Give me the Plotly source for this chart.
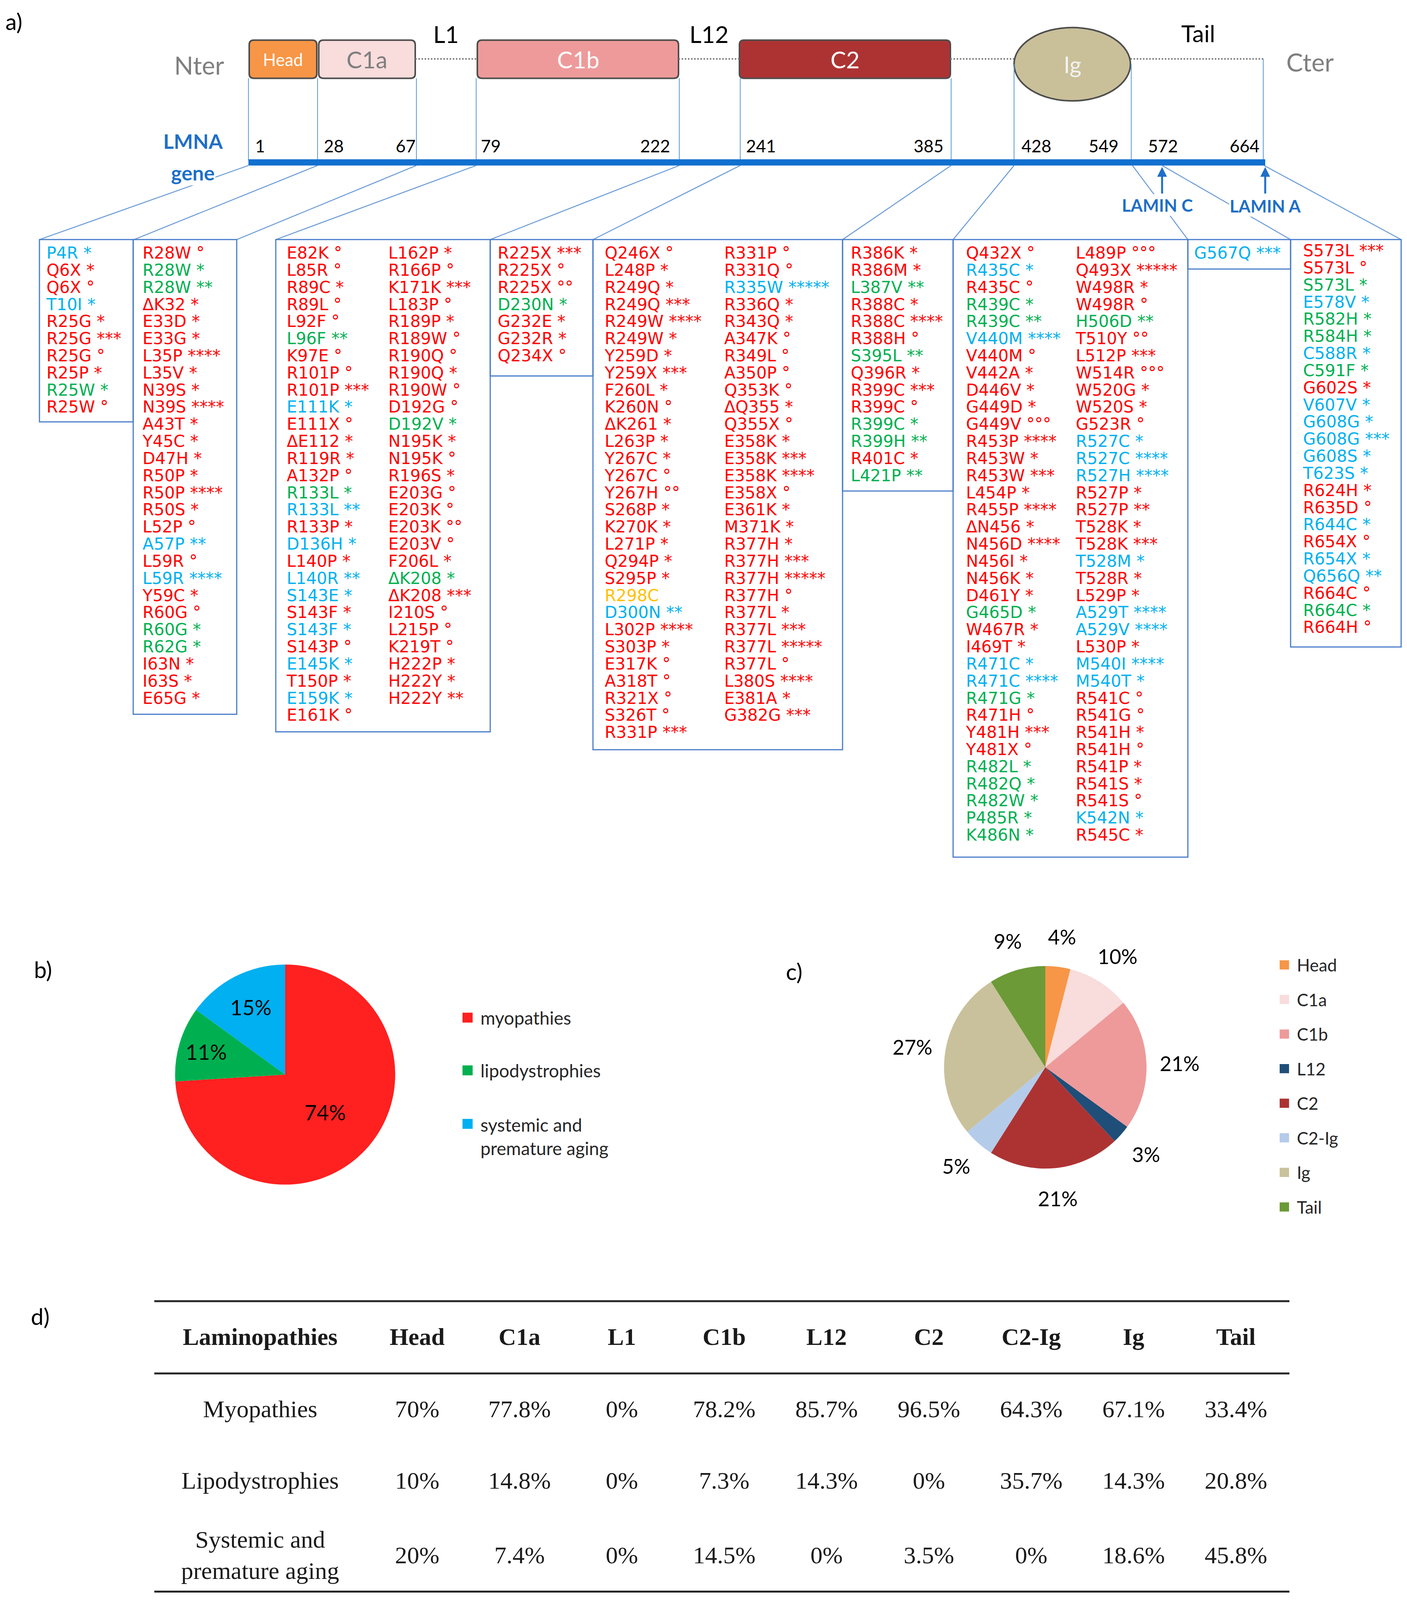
import math
import plotly.graph_objects as go

W, H = 3602, 4187

RED, GREEN, BLUE, YELLOW = "#FF0000", "#00B050", "#00B0F0", "#FFC000"
CLS = {"r": RED, "g": GREEN, "b": BLUE, "y": YELLOW}

# mutation lists, "name mark class" ("-" = no mark)
head_muts = ["P4R * b", "Q6X * r", "Q6X ° r", "T10I * b", "R25G * r", "R25G *** r",
             "R25G ° r", "R25P * r", "R25W * g", "R25W ° r"]
c1a_muts = ["R28W ° r", "R28W * g", "R28W ** g", "ΔK32 * r", "E33D * r", "E33G * r",
            "L35P **** r", "L35V * r", "N39S * r", "N39S **** r", "A43T * r", "Y45C * r",
            "D47H * r", "R50P * r", "R50P **** r", "R50S * r", "L52P ° r", "A57P ** b",
            "L59R ° r", "L59R **** b", "Y59C * r", "R60G ° r", "R60G * g", "R62G * g",
            "I63N * r", "I63S * r", "E65G * r"]
c1b_left = ["E82K ° r", "L85R ° r", "R89C * r", "R89L ° r", "L92F ° r", "L96F ** g",
            "K97E ° r", "R101P ° r", "R101P *** r", "E111K * b", "E111X ° r", "ΔE112 * r",
            "R119R * r", "A132P ° r", "R133L * g", "R133L ** b", "R133P * r", "D136H * b",
            "L140P * r", "L140R ** b", "S143E * b", "S143F * r", "S143F * b", "S143P ° r",
            "E145K * b", "T150P * r", "E159K * b", "E161K ° r"]
c1b_right = ["L162P * r", "R166P ° r", "K171K *** r", "L183P ° r", "R189P * r", "R189W ° r",
             "R190Q ° r", "R190Q * r", "R190W ° r", "D192G ° r", "D192V * g", "N195K * r",
             "N195K ° r", "R196S * r", "E203G ° r", "E203K ° r", "E203K °° r", "E203V ° r",
             "F206L * r", "ΔK208 * g", "ΔK208 *** r", "I210S ° r", "L215P ° r", "K219T ° r",
             "H222P * r", "H222Y * r", "H222Y ** r"]
l12_muts = ["R225X *** r", "R225X ° r", "R225X °° r", "D230N * g", "G232E * r",
            "G232R * r", "Q234X ° r"]
c2_left = ["Q246X ° r", "L248P * r", "R249Q * r", "R249Q *** r", "R249W **** r", "R249W * r",
           "Y259D * r", "Y259X *** r", "F260L * r", "K260N ° r", "ΔK261 * r", "L263P * r",
           "Y267C * r", "Y267C ° r", "Y267H °° r", "S268P * r", "K270K * r", "L271P * r",
           "Q294P * r", "S295P * r", "R298C - y", "D300N ** b", "L302P **** r", "S303P * r",
           "E317K ° r", "A318T ° r", "R321X ° r", "S326T ° r", "R331P *** r"]
c2_right = ["R331P ° r", "R331Q ° r", "R335W ***** b", "R336Q * r", "R343Q * r", "A347K ° r",
            "R349L ° r", "A350P ° r", "Q353K ° r", "ΔQ355 * r", "Q355X ° r", "E358K * r",
            "E358K *** r", "E358K **** r", "E358X ° r", "E361K * r", "M371K * r", "R377H * r",
            "R377H *** r", "R377H ***** r", "R377H ° r", "R377L * r", "R377L *** r",
            "R377L ***** r", "R377L ° r", "L380S **** r", "E381A * r", "G382G *** r"]
c2ig_muts = ["R386K * r", "R386M * r", "L387V ** g", "R388C * r", "R388C **** r", "R388H ° r",
             "S395L ** g", "Q396R * r", "R399C *** r", "R399C ° r", "R399C * g", "R399H ** g",
             "R401C * r", "L421P ** g"]
ig_left = ["Q432X ° r", "R435C * b", "R435C ° r", "R439C * g", "R439C ** g", "V440M **** b",
           "V440M ° r", "V442A * r", "D446V * r", "G449D * r", "G449V °°° r", "R453P **** r",
           "R453W * r", "R453W *** r", "L454P * r", "R455P **** r", "ΔN456 * r", "N456D **** r",
           "N456I * r", "N456K * r", "D461Y * r", "G465D * g", "W467R * r", "I469T * r",
           "R471C * b", "R471C **** b", "R471G * g", "R471H ° r", "Y481H *** r", "Y481X ° r",
           "R482L * g", "R482Q * g", "R482W * g", "P485R * g", "K486N * g"]
ig_right = ["L489P °°° r", "Q493X ***** r", "W498R * r", "W498R ° r", "H506D ** g",
            "T510Y °° r", "L512P *** r", "W514R °°° r", "W520G * r", "W520S * r", "G523R ° r",
            "R527C * b", "R527C **** b", "R527H **** b", "R527P * r", "R527P ** r", "T528K * r",
            "T528K *** r", "T528M * b", "T528R * r", "L529P * r", "A529T **** b", "A529V **** b",
            "L530P * r", "M540I **** b", "M540T * b", "R541C ° r", "R541G ° r", "R541H * r",
            "R541H ° r", "R541P * r", "R541S * r", "R541S ° r", "K542N * b", "R545C * r"]
tail_c_muts = ["G567Q *** b"]
tail_a_muts = ["S573L *** r", "S573L ° r", "S573L * g", "E578V * b", "R582H * g", "R584H * g",
               "C588R * b", "C591F * g", "G602S * r", "V607V * b", "G608G * b", "G608G *** b",
               "G608S * b", "T623S * b", "R624H * r", "R635D ° r", "R644C * b", "R654X ° r",
               "R654X * b", "Q656Q ** b", "R664C ° r", "R664C * g", "R664H ° r"]

# diagram labels
domain_names = ["Head", "C1a", "C1b", "C2", "Ig"]
domain_colors = ["#F79646", "#F9DCDC", "#EE9A9A", "#AD3333", "#C9C09A"]
domain_text_colors = ["white", "#7F7F7F", "white", "white", "#F2F2F2"]
linker_names = ["L1", "L12", "Tail"]
residue_ticks = [1, 28, 67, 79, 222, 241, 385, 428, 549, 572, 664]

# pie b
disease_labels = ["myopathies", "lipodystrophies", "systemic and premature aging"]
disease_share = [74, 11, 15]
disease_colors = ["#FF2020", "#00B050", "#00B0F0"]

# pie c
region_labels = ["Head", "C1a", "C1b", "L12", "C2", "C2-Ig", "Ig", "Tail"]
region_share = [4, 10, 21, 3, 21, 5, 27, 9]
region_colors = ["#F79646", "#F9DCDC", "#EE9A9A", "#1F4E79", "#AD3333", "#B4CBEA",
                 "#C9C19B", "#6C9A37"]

# table d
table_cols = ["Head", "C1a", "L1", "C1b", "L12", "C2", "C2-Ig", "Ig", "Tail"]
table_rows = ["Myopathies", "Lipodystrophies", "Systemic and<br>premature aging"]
myo_pct = [70, 77.8, 0, 78.2, 85.7, 96.5, 64.3, 67.1, 33.4]
lipo_pct = [10, 14.8, 0, 7.3, 14.3, 0, 35.7, 14.3, 20.8]
aging_pct = [20, 7.4, 0, 14.5, 0, 3.5, 0, 18.6, 45.8]

fig = go.Figure()
shapes = []
ann = []


def line(x0, y0, x1, y1, color, width, dash="solid"):
    shapes.append(dict(type="line", xref="x", yref="y", x0=x0, y0=y0, x1=x1, y1=y1,
                       line=dict(color=color, width=width, dash=dash)))


def label(x, y, text, size, color="black", family="Lato", **kw):
    ann.append(dict(x=x, y=y, xref="x", yref="y", text=text, showarrow=False,
                    font=dict(family=family, size=size, color=color), **kw))


def rrect(x0, y0, x1, y1, r):
    return (f"M{x0+r},{y0} L{x1-r},{y0} Q{x1},{y0} {x1},{y0+r} L{x1},{y1-r} "
            f"Q{x1},{y1} {x1-r},{y1} L{x0+r},{y1} Q{x0},{y1} {x0},{y1-r} "
            f"L{x0},{y0+r} Q{x0},{y0} {x0+r},{y0} Z")


# ---- a) domain diagram
box_x = [(638, 811), (816, 1063), (1222, 1737), (1893, 2433)]
for i, (x0, x1) in enumerate(box_x):
    shapes.append(dict(type="path", xref="x", yref="y", path=rrect(x0, 105, x1, 205, 12),
                       fillcolor=domain_colors[i], line=dict(color="#4D4D4D", width=4)))
    label((x0 + x1) / 2, 155, domain_names[i], 44 if i == 0 else 60, domain_text_colors[i])
shapes.append(dict(type="circle", xref="x", yref="y", x0=2596, y0=72, x1=2894, y1=264,
                   fillcolor=domain_colors[4], line=dict(color="#4D4D4D", width=4)))
label(2745, 168, domain_names[4], 58, domain_text_colors[4])

for x0, x1 in [(1063, 1222), (1737, 1893), (2433, 2596), (2894, 3234)]:
    line(x0, 154, x1, 154, "#808080", 4, "dot")

for (x, y0) in [(636, 205), (813, 205), (1066, 205), (1219, 205), (1739, 205), (1895, 205),
                (2435, 205), (2596, 168), (2896, 168), (3234, 154)]:
    line(x, y0, x, 420, "#5B9BD5", 2)

tick_x = [666, 854, 1038, 1256, 1677, 1948, 2377, 2653, 2825, 2977, 3186]
for x, t in zip(tick_x, residue_ticks):
    label(x, 381, str(t), 44)

for x, y, t in zip([1142, 1815, 3067], [89, 89, 87], linker_names):
    label(x, y, t, 60)
label(510, 170, "Nter", 64, "#7F7F7F")
label(3354, 162, "Cter", 64, "#7F7F7F")

# connectors bar -> boxes
for xa, xb in [(636, 101), (813, 343), (1066, 606), (1219, 706), (1739, 1255), (1895, 1518),
               (2435, 2157), (2596, 2440), (2899, 3041), (2975, 3304), (3236, 3587)]:
    line(xa, 433, xb, 627, "#6A9BD8", 2.5)

line(636, 425, 3239, 425, "#1170CF", 16)

label(494, 369, "<b>LMNA</b>", 52, "#1F6FC8")
label(494, 452, "<b>gene</b>", 52, "#1F6FC8", bgcolor="white")
for x in [2975, 3239]:
    ann.append(dict(x=x, y=437, xref="x", yref="y", ax=x, ay=508, axref="x", ayref="y",
                    text="", showarrow=True, arrowhead=2, arrowsize=1, arrowwidth=5,
                    arrowcolor="#1F6FC8"))
label(2963, 537, "<b>LAMIN C</b>", 44, "#1F6FC8", bgcolor="white")
label(3239, 539, "<b>LAMIN A</b>", 44, "#1F6FC8", bgcolor="white")

# mutation boxes
for x0, x1, y1 in [(101, 341, 1104), (341, 606, 1869), (706, 1255, 1915), (1255, 1518, 984),
                   (1518, 2157, 1962), (2157, 2440, 1285), (2440, 3041, 2243),
                   (3041, 3304, 704), (3304, 3587, 1693)]:
    shapes.append(dict(type="rect", xref="x", yref="y", x0=x0, y0=627, x1=x1, y1=y1,
                       line=dict(color="#4A7ECB", width=3)))

ROW0, STEP = 666, 44.8
text_cols = [(head_muts, 119, ROW0), (c1a_muts, 365, ROW0), (c1b_left, 734, ROW0),
             (c1b_right, 994, ROW0), (l12_muts, 1274, ROW0), (c2_left, 1548, ROW0),
             (c2_right, 1854, ROW0), (c2ig_muts, 2178, ROW0), (ig_left, 2473, ROW0),
             (ig_right, 2754, ROW0), (tail_c_muts, 3057, ROW0), (tail_a_muts, 3336, 660)]
for muts, x0, y0 in text_cols:
    parts = [m.split(" ") for m in muts]
    txt = [p[0] if p[1] == "-" else p[0] + " " + p[1] for p in parts]
    fig.add_trace(go.Scatter(
        x=[x0] * len(parts), y=[y0 + i * STEP for i in range(len(parts))],
        mode="text", text=txt, textposition="middle right",
        textfont=dict(family="DejaVu Sans", size=42, color=[CLS[p[2]] for p in parts]),
        hoverinfo="skip", showlegend=False))


# ---- b) and c) pies
def pie_domain(cx, cy, r):
    return dict(x=[(cx - r) / W, (cx + r) / W], y=[1 - (cy + r) / H, 1 - (cy - r) / H])


fig.add_trace(go.Pie(
    labels=disease_labels, values=disease_share, sort=False, direction="clockwise",
    rotation=0, marker=dict(colors=disease_colors, line=dict(width=0)),
    texttemplate="%{value}%", textposition="inside", insidetextorientation="horizontal",
    textfont=dict(family="Lato", size=54, color="black"),
    domain=pie_domain(730, 2812, 288), showlegend=False, hoverinfo="skip"))

PC_X, PC_Y, PC_R = 2676, 2793, 265
fig.add_trace(go.Pie(
    labels=region_labels, values=region_share, sort=False, direction="clockwise",
    rotation=0, marker=dict(colors=region_colors, line=dict(width=0)),
    textinfo="none", domain=pie_domain(PC_X, PC_Y, PC_R), showlegend=False,
    hoverinfo="skip"))

# percentage labels of pie c, set a bit away from the rim along each slice's mid angle
total = sum(region_share)
cum = 0
for v in region_share:
    ang = 2 * math.pi * (cum + v / 2) / total
    cum += v
    label(PC_X + 1.3 * PC_R * math.sin(ang), PC_Y - 1.3 * PC_R * math.cos(ang), f"{v}%", 52)

# legends drawn by hand to keep the wide spacing
for i, (lab, c) in enumerate(zip(disease_labels, disease_colors)):
    y = [2663, 2801, 2974][i]
    ys = [2663, 2801, 2941][i]
    shapes.append(dict(type="rect", xref="x", yref="y", x0=1184, x1=1210, y0=ys - 13,
                       y1=ys + 13, fillcolor=c, line=dict(width=0)))
    label(1228, y, lab.replace("and ", "and<br>"), 46, "#262626", xanchor="left", align="left")

for i, (lab, c) in enumerate(zip(region_labels, region_colors)):
    y = 2525 + i * 90.5
    shapes.append(dict(type="rect", xref="x", yref="y", x0=3276, x1=3300, y0=y - 12,
                       y1=y + 12, fillcolor=c, line=dict(width=0)))
    label(3318, y, lab, 44, "#262626", xanchor="left")

# ---- d) table
col_x = [1068 + 262 * i for i in range(len(table_cols))]
fig.add_trace(go.Scatter(
    x=[666] + col_x, y=[3504] * (len(table_cols) + 1), mode="text",
    text=["<b>Laminopathies</b>"] + ["<b>" + c + "</b>" for c in table_cols],
    textposition="middle center",
    textfont=dict(family="Liberation Serif", size=62, color="#1A1A1A"),
    hoverinfo="skip", showlegend=False))
for name, vals, y in zip(table_rows, [myo_pct, lipo_pct, aging_pct], [3693, 3880, 4075]):
    fig.add_trace(go.Scatter(
        x=[666] + col_x, y=[y] * (len(vals) + 1), mode="text",
        text=[name] + [f"{v:g}%" for v in vals], textposition="middle center",
        textfont=dict(family="Liberation Serif", size=62, color="#1A1A1A"),
        hoverinfo="skip", showlegend=False))
for y in [3405, 3594, 4165]:
    line(395, y, 3301, y, "#262626", 5)

# panel letters
for x, y, t in [(35, 56, "a)"), (110, 2537, "b)"), (2033, 2542, "c)"), (103, 3444, "d)")]:
    label(x, y, t, 58)

fig.update_layout(
    autosize=True, margin=dict(l=0, r=0, t=0, b=0),
    paper_bgcolor="white", plot_bgcolor="white",
    xaxis=dict(range=[0, W], visible=False, domain=[0, 1], fixedrange=True),
    yaxis=dict(range=[H, 0], visible=False, domain=[0, 1], fixedrange=True),
    shapes=shapes, annotations=ann)

# fill the visible window so nothing is cut off at the bottom
fit_js = ("document.body.style.margin='0';document.body.style.overflow='hidden';"
          "var gd=document.getElementById('{plot_id}');"
          "gd.style.width=window.innerWidth+'px';gd.style.height=window.innerHeight+'px';"
          "Plotly.Plots.resize(gd);")

fig.write_html("out.html", default_width="100vw", default_height="100vh",
               config={"responsive": True, "displayModeBar": False}, post_script=fit_js)
